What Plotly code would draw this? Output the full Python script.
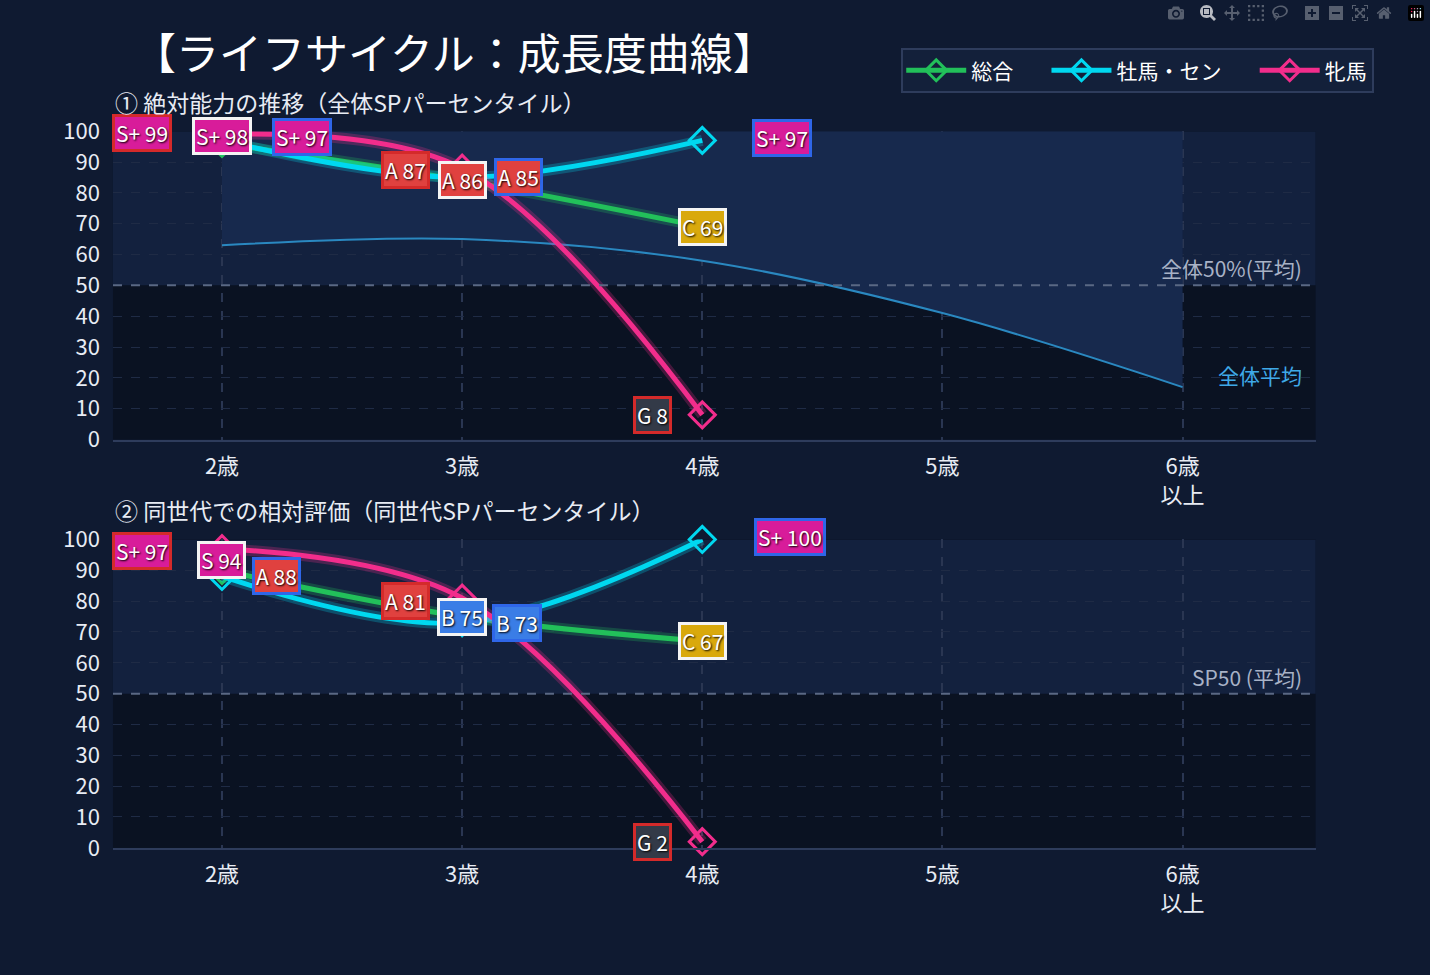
import plotly.graph_objects as go

ages = [0, 1, 2, 3, 4]
age_labels = ['2歳', '3歳', '4歳', '5歳', '6歳<br>以上']
x3 = [0, 1, 2]

# 絶対能力
abs_total = [96, 84, 69]
abs_male = [97, 85, 97]
abs_female = [99, 88, 8]
abs_avg = [63, 65, 58, 41, 17]
abs_lbl_total = ['S+ 98', 'A 86', 'C 69']
abs_lbl_male = ['S+ 97', 'A 85', 'S+ 97']
abs_lbl_female = ['S+ 99', 'A 87', 'G 8']

# 同世代相対
rel_total = [90, 75, 67]
rel_male = [88, 73, 100]
rel_female = [97, 81, 2]
rel_lbl_total = ['S 94', 'B 75', 'C 67']
rel_lbl_male = ['A 88', 'B 73', 'S+ 100']
rel_lbl_female = ['S+ 97', 'A 81', 'G 2']

C_TOTAL = '#22c05a'
C_MALE = '#00d8f0'
C_FEMALE = '#f22d8c'
GRADE_FILL = {'S': '#d81c9a', 'A': '#e0413f', 'B': '#3a7de6', 'C': '#d9a90c', 'G': '#333a48'}
FONT = 'Noto Sans CJK JP'

fig = go.Figure()


def add_series(vals, color, name, xa, ya, legend):
    # glow underneath
    fig.add_trace(go.Scatter(x=x3, y=vals, mode='lines', line=dict(color=color, width=11, shape='spline'),
                             opacity=0.25, showlegend=False, hoverinfo='skip', xaxis=xa, yaxis=ya))
    fig.add_trace(go.Scatter(x=x3, y=vals, mode='lines+markers', name=name, legendgroup=name, showlegend=legend,
                             line=dict(color=color, width=5, shape='spline'),
                             marker=dict(symbol='diamond-open', size=20, color=color, line=dict(width=3)),
                             cliponaxis=False, xaxis=xa, yaxis=ya))


def add_labels(vals, labels, border, shifts, xa, ya):
    for x, v, t, s in zip(x3, vals, labels, shifts):
        g = t[0]
        fig.add_annotation(x=x, y=v, xref=xa, yref=ya, text=t, showarrow=False, xshift=s[0], yshift=s[1],
                           font=dict(color='white', size=21, family=FONT, shadow='1px 1px 2px #000'),
                           bgcolor=GRADE_FILL[g], bordercolor=border, borderwidth=3, borderpad=1)


# avg area (top chart)
fig.add_trace(go.Scatter(x=ages, y=[100] * 5, mode='lines', line=dict(width=0), showlegend=False,
                         hoverinfo='skip', xaxis='x', yaxis='y'))
fig.add_trace(go.Scatter(x=ages, y=abs_avg, mode='lines', line=dict(color='#2a88c0', width=2, shape='spline'),
                         fill='tonexty', fillcolor='#17294d', showlegend=False, xaxis='x', yaxis='y'))

add_series(abs_total, C_TOTAL, '総合      ', 'x', 'y', True)
add_series(abs_male, C_MALE, '牡馬・セン      ', 'x', 'y', True)
add_series(abs_female, C_FEMALE, '牝馬', 'x', 'y', True)
add_series(rel_total, C_TOTAL, '総合', 'x2', 'y2', False)
add_series(rel_male, C_MALE, '牡馬・セン', 'x2', 'y2', False)
add_series(rel_female, C_FEMALE, '牝馬', 'x2', 'y2', False)

add_labels(abs_total, abs_lbl_total, '#f4f4f4', [(0, 7), (0, 1), (0, 0)], 'x', 'y')
add_labels(abs_male, abs_lbl_male, '#2f66e8', [(80, 3), (56, 0), (80, 2)], 'x', 'y')
add_labels(abs_female, abs_lbl_female, '#d42a2a', [(-80, 1), (-57, -2), (-50, 0)], 'x', 'y')
add_labels(rel_total, rel_lbl_total, '#f4f4f4', [(0, 10), (0, 0), (0, 0)], 'x2', 'y2')
add_labels(rel_male, rel_lbl_male, '#2f66e8', [(55, 0), (55, 0), (88, 2)], 'x2', 'y2')
add_labels(rel_female, rel_lbl_female, '#d42a2a', [(-80, -2), (-57, -3), (-50, 0)], 'x2', 'y2')

axis_font = dict(color='#e8ecf4', size=22, family=FONT)
for yref in ['y', 'y2']:
    xd = 'x domain' if yref == 'y' else 'x2 domain'
    fig.add_shape(type='rect', xref=xd, yref=yref, x0=0, x1=1, y0=50, y1=100,
                  fillcolor='#13213e', line_width=0, layer='below')
    fig.add_shape(type='line', xref=xd, yref=yref, x0=0, x1=1, y0=50, y1=50,
                  line=dict(color='#5a6884', width=2, dash='dash'), layer='above')

fig.add_annotation(x=1, y=50, xref='x domain', yref='y', text='全体50%(平均)', showarrow=False, xanchor='right',
                   yanchor='bottom', xshift=-12, font=dict(color='#a8b2c6', size=21, family=FONT))
fig.add_annotation(x=1, y=21, xref='x domain', yref='y', text='全体平均', showarrow=False, xanchor='right',
                   xshift=-12, font=dict(color='#3fa9e8', size=21, family=FONT))
fig.add_annotation(x=1, y=50, xref='x2 domain', yref='y2', text='SP50 (平均)', showarrow=False, xanchor='right',
                   yanchor='bottom', xshift=-12, font=dict(color='#a8b2c6', size=21, family=FONT))

fig.add_annotation(x=0.079, y=0.880, xref='paper', yref='paper', text='① 絶対能力の推移（全体SPパーセンタイル）',
                   showarrow=False, xanchor='left', yanchor='bottom', yshift=10,
                   font=dict(color='#e8ecf4', size=23, family=FONT))
fig.add_annotation(x=0.079, y=0.447, xref='paper', yref='paper', text='② 同世代での相対評価（同世代SPパーセンタイル）',
                   showarrow=False, xanchor='left', yanchor='bottom', yshift=10,
                   font=dict(color='#e8ecf4', size=23, family=FONT))

xcommon = dict(range=[-0.454, 4.554], tickvals=ages, ticktext=age_labels, tickfont=axis_font,
               showgrid=True, gridcolor='#2a3652', griddash='dash', gridwidth=2, zeroline=False,
               showline=True, linecolor='#2e3c5c', linewidth=2, ticks='', ticklabelstandoff=6)
ycommon = dict(range=[0, 100], tickvals=list(range(0, 101, 10)), tickfont=axis_font, showgrid=True,
               gridcolor='#1f2b45', griddash='dash', zeroline=False, ticks='', ticklabelstandoff=12)

fig.update_layout(
    width=1430, height=975,
    margin=dict(l=0, r=0, t=0, b=0),
    paper_bgcolor='#0f1a31',
    plot_bgcolor='#0a1222',
    title=dict(text='【ライフサイクル：成長度曲線】', x=0.093, xanchor='left', y=0.944, yanchor='middle',
               font=dict(color='white', size=43, family=FONT)),
    xaxis=dict(domain=[0.079, 0.920], anchor='y', **xcommon),
    yaxis=dict(domain=[0.553, 0.880], anchor='x', **ycommon),
    xaxis2=dict(domain=[0.079, 0.920], anchor='y2', **xcommon),
    yaxis2=dict(domain=[0.120, 0.447], anchor='x2', **ycommon),
    legend=dict(orientation='h', x=0.961, xanchor='right', y=0.968, yanchor='top', bgcolor='#13203a',
                bordercolor='#2e3c5c', borderwidth=2, font=dict(color='white', size=21, family=FONT),
                itemwidth=60),
    showlegend=True,
)

fig.write_html("out.html", post_script="document.body.style.margin='0';")
